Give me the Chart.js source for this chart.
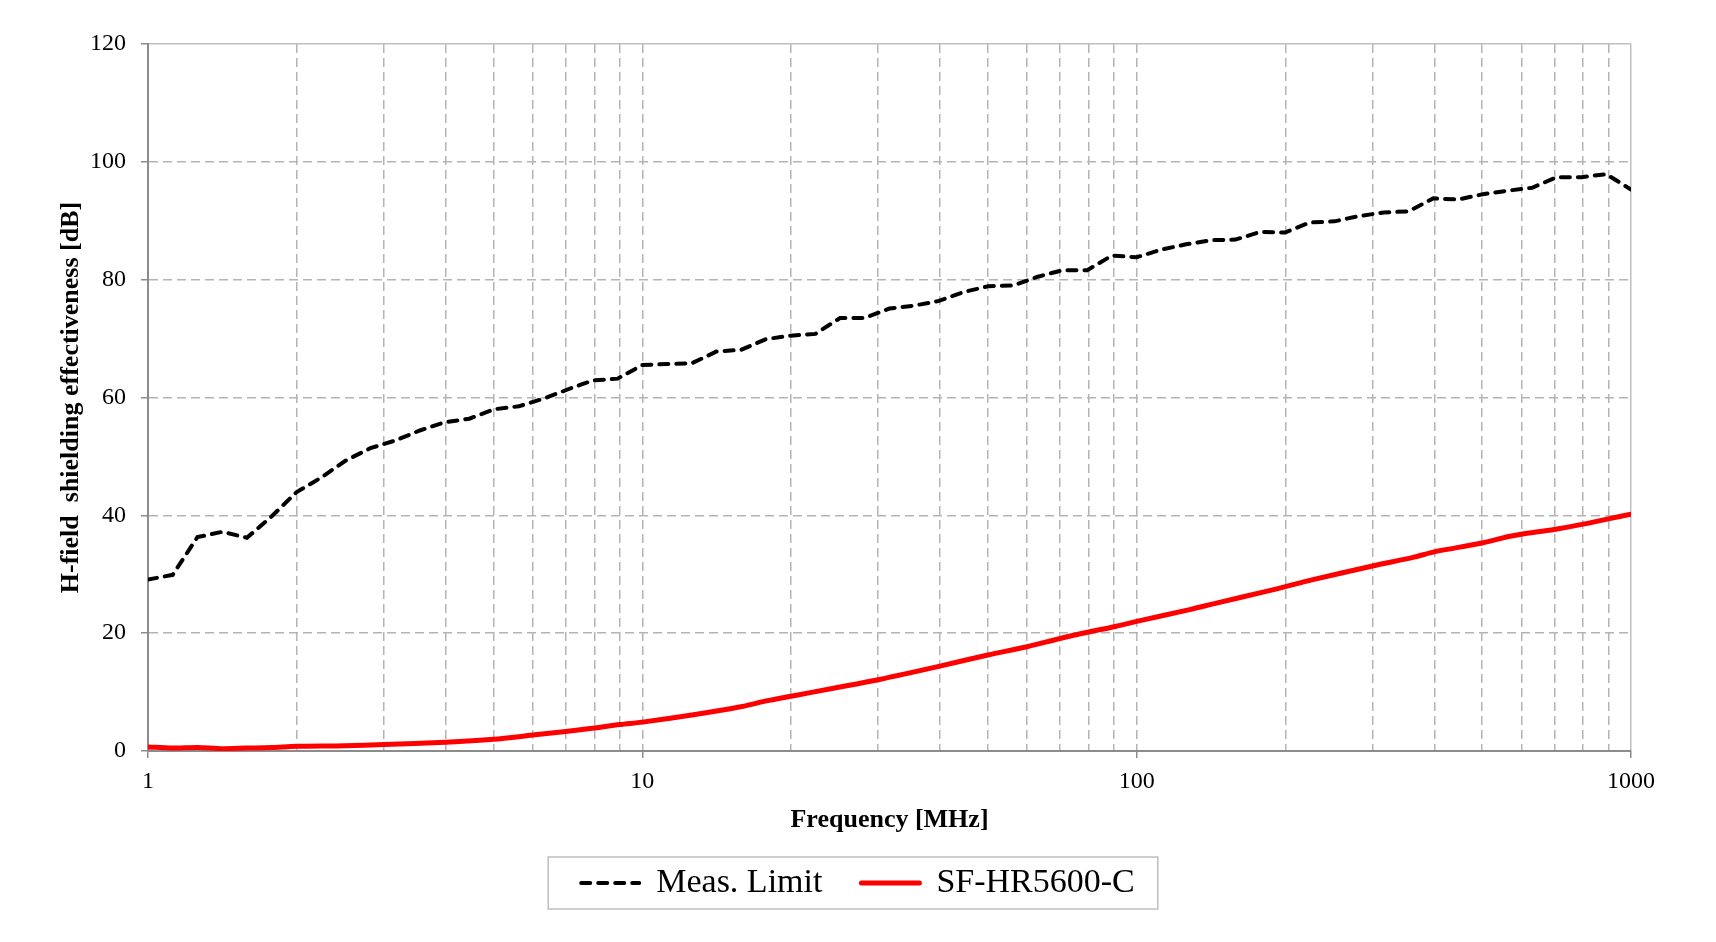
<!DOCTYPE html>
<html>
<head>
<meta charset="utf-8">
<script src="https://cdn.jsdelivr.net/npm/chart.js@4.4.1/dist/chart.umd.min.js"></script>
<style>
  html, body { margin: 0; padding: 0; background: #fff; }
  #wrap { width: 1716px; height: 942px; }
</style>
</head>
<body>
<div id="wrap"><canvas id="grafico"></canvas></div>
<script>
const grafico = document.getElementById("grafico");

// eixo x (log) e eixo y
const freqTicks = [1, 2, 3, 4, 5, 6, 7, 8, 9, 10, 20, 30, 40, 50, 60, 70, 80, 90,
  100, 200, 300, 400, 500, 600, 700, 800, 900, 1000];
const majorFreqs = [1, 10, 100, 1000];

// Meas. Limit
const limitFreq = [1, 1.122, 1.259, 1.413, 1.585, 1.778, 1.995, 2.239, 2.512, 2.818,
  3.162, 3.548, 3.981, 4.467, 5.012, 5.623, 6.310, 7.079, 7.943, 8.913, 10,
  11.22, 12.59, 14.13, 15.85, 17.78, 19.95, 22.39, 25.12, 28.18, 31.62, 35.48,
  39.81, 44.67, 50.12, 56.23, 63.10, 70.79, 79.43, 89.13, 100,
  112.2, 125.9, 141.3, 158.5, 177.8, 199.5, 223.9, 251.2, 281.8, 316.2, 354.8,
  398.1, 446.7, 501.2, 562.3, 631.0, 707.9, 794.3, 891.3, 1000];
const limitDb = [29.1, 29.9, 36.3, 37.2, 36.2, 39.8, 43.9, 46.4, 49.3, 51.4,
  52.7, 54.4, 55.8, 56.4, 58.0, 58.5, 59.8, 61.4, 62.9, 63.2, 65.5,
  65.7, 65.8, 67.8, 68.1, 69.9, 70.5, 70.8, 73.5, 73.5, 75.1, 75.6,
  76.4, 77.9, 78.9, 79.0, 80.5, 81.6, 81.6, 84.1, 83.8,
  85.1, 86.0, 86.7, 86.8, 88.1, 88.0, 89.7, 89.9, 90.8, 91.4, 91.6,
  93.8, 93.6, 94.5, 95.1, 95.6, 97.4, 97.4, 97.9, 95.3];

// SF-HR5600-C
const sfFreq = [1, 1.12, 1.26, 1.41, 1.58, 1.78, 2, 2.5, 3, 4, 5, 6, 7, 8, 9, 10,
  12.6, 15.8, 17.8, 20, 24.5, 30, 40, 50, 60, 70, 80, 90, 100,
  128, 145, 181, 200, 225, 300, 364, 400, 500, 565, 600, 700, 800, 900, 1000];
const sfDb = [0.7, 0.5, 0.6, 0.4, 0.5, 0.6, 0.8, 0.9, 1.1, 1.5, 2.0, 2.7, 3.3, 3.9, 4.5, 4.9,
  6.1, 7.5, 8.5, 9.3, 10.7, 12.1, 14.4, 16.3, 17.7, 19.1, 20.2, 21.1, 22.0,
  24.0, 25.1, 27.0, 27.9, 29.0, 31.4, 32.9, 33.8, 35.3, 36.4, 36.8, 37.6, 38.5, 39.4, 40.2];

const pontos = (xs, ys) => xs.map((x, i) => ({ x: x, y: ys[i] }));

const serif = "'Liberation Serif', 'Times New Roman', serif";
Chart.defaults.font.family = serif;
Chart.defaults.color = "#000";

const gridGray = "#b4b4b4";
const axisGray = "#8c8c8c";
const frameGray = "#bfbfbf";

// moldura da legenda
const legendBox = {
  id: "legendBox",
  afterDraw(chart) {
    const hb = chart.legend.legendHitBoxes;
    if (!hb || !hb.length) return;
    const first = hb[0];
    const last = hb[hb.length - 1];
    const yc = first.top + first.height / 2;
    const x0 = first.left - 33;
    const x1 = last.left + last.width + 23;
    const ctx = chart.ctx;
    ctx.save();
    ctx.strokeStyle = frameGray;
    ctx.lineWidth = 1.5;
    ctx.strokeRect(x0, yc - 26, x1 - x0, 52);
    ctx.restore();
  },
};

new Chart(grafico, {
  type: "line",
  data: {
    datasets: [
      {
        label: "Meas. Limit",
        data: pontos(limitFreq, limitDb),
        borderColor: "#000",
        backgroundColor: "#000",
        borderWidth: 4,
        borderDash: [9, 8],
        borderCapStyle: "round",
        pointRadius: 0,
        pointStyle: "line",
        tension: 0,
      },
      {
        label: "SF-HR5600-C",
        data: pontos(sfFreq, sfDb),
        borderColor: "#ff0000",
        backgroundColor: "#ff0000",
        borderWidth: 5,
        borderCapStyle: "round",
        pointRadius: 0,
        pointStyle: "line",
        tension: 0.3,
      },
    ],
  },
  options: {
    responsive: true,
    maintainAspectRatio: false,
    animation: false,
    layout: {
      padding: { top: 44, right: 0, bottom: 32, left: 0 },
    },
    scales: {
      x: {
        type: "logarithmic",
        min: 1,
        max: 1000,
        afterBuildTicks: (scale) => {
          scale.ticks = freqTicks.map((v) => ({ value: v, major: majorFreqs.includes(v) }));
        },
        afterFit: (scale) => {
          scale.height = 76;
        },
        ticks: {
          autoSkip: false,
          maxRotation: 0,
          padding: 9,
          font: { size: 24 },
          callback: (value) => (majorFreqs.includes(value) ? String(value) : ""),
        },
        grid: {
          lineWidth: 1.5,
          color: (ctx) => {
            if (!ctx.tick) return gridGray;
            if (ctx.tick.value === 1) return "rgba(0,0,0,0)";
            if (ctx.tick.value === 1000) return frameGray;
            return gridGray;
          },
          tickLength: 7,
          tickWidth: 1.5,
          tickColor: (ctx) =>
            ctx.tick && majorFreqs.includes(ctx.tick.value) ? axisGray : "rgba(0,0,0,0)",
        },
        border: {
          color: axisGray,
          width: 2,
          dash: (ctx) => (ctx.tick && ctx.tick.value === 1000 ? [] : [9, 5]),
        },
        title: {
          display: true,
          text: "Frequency [MHz]",
          font: { size: 26, weight: "bold" },
          padding: { top: 0, bottom: -9 },
        },
      },
      y: {
        min: 0,
        max: 120,
        afterFit: (scale) => {
          scale.width = 148;
        },
        ticks: {
          stepSize: 20,
          padding: 15,
          font: { size: 24 },
        },
        grid: {
          lineWidth: 1.5,
          color: (ctx) => {
            if (!ctx.tick) return gridGray;
            if (ctx.tick.value === 0) return "rgba(0,0,0,0)";
            if (ctx.tick.value === 120) return frameGray;
            return gridGray;
          },
          tickLength: 7,
          tickWidth: 1.5,
          tickColor: axisGray,
        },
        border: {
          color: axisGray,
          width: 2,
          dash: (ctx) => (ctx.tick && ctx.tick.value === 120 ? [] : [9, 5]),
        },
        title: {
          display: true,
          text: "H-field  shielding effectiveness [dB]",
          font: { size: 26, weight: "bold" },
          padding: { top: 56, bottom: 0 },
        },
      },
      // espaço à direita do gráfico
      yDireita: {
        position: "right",
        min: 0,
        max: 120,
        afterFit: (scale) => {
          scale.width = 85;
        },
        ticks: { display: false },
        grid: { display: false },
        border: { display: false },
      },
    },
    plugins: {
      legend: {
        position: "bottom",
        labels: {
          usePointStyle: true,
          pointStyleWidth: 58,
          padding: 39,
          font: { size: 34 },
          color: "#000",
          generateLabels: (chart) => {
            const itens = Chart.defaults.plugins.legend.labels.generateLabels(chart);
            itens.forEach((item) => {
              const ds = chart.data.datasets[item.datasetIndex];
              item.lineDash = ds.borderDash || [];
              item.lineWidth = ds.borderWidth;
              item.strokeStyle = ds.borderColor;
              item.lineCap = "round";
            });
            return itens;
          },
        },
      },
      tooltip: { enabled: false },
    },
  },
  plugins: [legendBox],
});
</script>
</body>
</html>
